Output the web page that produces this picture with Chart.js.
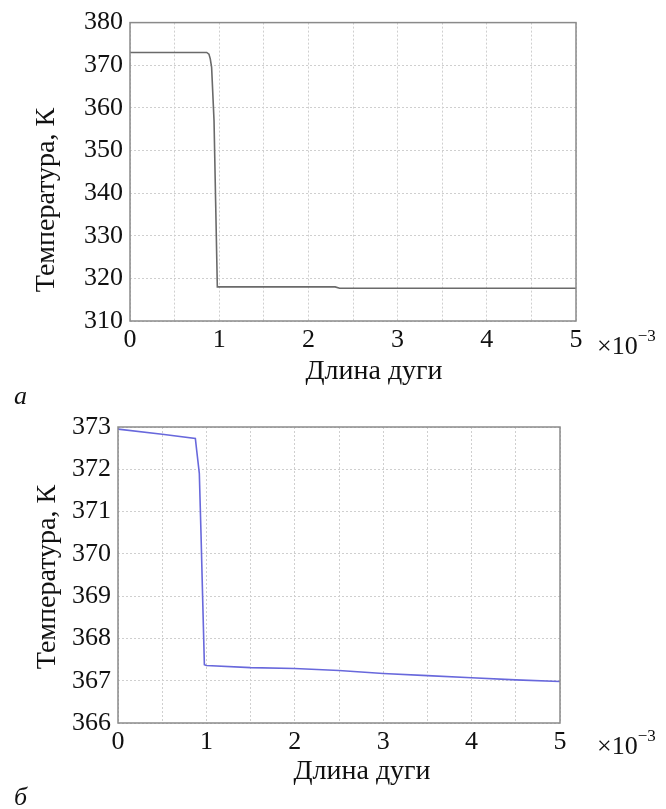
<!DOCTYPE html>
<html>
<head>
<meta charset="utf-8">
<script src="https://cdn.jsdelivr.net/npm/chart.js@4.4.0/dist/chart.umd.min.js"></script>
<style>
body { margin: 0; background: #fff; width: 666px; height: 809px; position: relative; overflow: hidden;
       font-family: "Liberation Serif", "Times New Roman", serif; color: #111; }
canvas { position: absolute; left: 0; }
.lbl { position: absolute; font-size: 28px; line-height: 1; white-space: nowrap; }
.ytitle { transform: translate(-50%, -50%) rotate(-90deg); }
.xtitle { transform: translate(-50%, -50%); }
.exp { font-size: 26px; }
.exp sup { font-size: 17px; position: relative; top: -3px; }
.panel { font-style: italic; font-size: 26px; }
</style>
</head>
<body>
<canvas id="chartA" width="666" height="390" style="top:0"></canvas>
<canvas id="chartB" width="666" height="400" style="top:400px"></canvas>

<div class="lbl ytitle" style="left:45px; top:200px">Температура, К</div>
<div class="lbl xtitle" style="left:374px; top:370px">Длина дуги</div>
<div class="lbl exp" style="left:597px; top:330px">×10<sup>−3</sup></div>
<div class="lbl panel" style="left:14px; top:383px">а</div>

<div class="lbl ytitle" style="left:46px; top:577px">Температура, К</div>
<div class="lbl xtitle" style="left:362px; top:770px">Длина дуги</div>
<div class="lbl exp" style="left:597px; top:730px">×10<sup>−3</sup></div>
<div class="lbl panel" style="left:14px; top:784px">б</div>

<script>
// arc length in units of 1e-3
const arcA  = [0, 0.86, 0.885, 0.9, 0.915, 0.942, 0.96, 0.979, 1.0, 2.3, 2.35, 5.0];
const tempA = [373, 373, 372.6, 371.5, 369.5, 357, 338, 318, 318, 318, 317.7, 317.7];

const arcB  = [0, 0.5, 0.875, 0.89, 0.92, 0.94, 0.957, 0.977, 1.0, 1.5, 2.0, 2.5, 3.0, 3.5, 4.0, 4.5, 5.0];
const tempB = [372.95, 372.83, 372.73, 372.45, 371.9, 370.4, 369.0, 367.38, 367.36, 367.31, 367.29, 367.24, 367.17, 367.12, 367.07, 367.02, 366.98];

const xTicks = [0, 1, 2, 3, 4, 5];

// frame round the plot area, like matlab's box on
const framePlugin = {
    id: 'frame',
    afterDraw(chart) {
        const { ctx, chartArea: a } = chart;
        ctx.save();
        ctx.strokeStyle = '#8a8a8a';
        ctx.lineWidth = 1.5;
        ctx.strokeRect(a.left, a.top, a.right - a.left, a.bottom - a.top);
        ctx.restore();
    }
};

function makeChart(id, xs, ys, yMin, yMax, yStep, color, box) {
    const canvas = document.getElementById(id);
    const font = { family: '"Liberation Serif", "Times New Roman", serif', size: 26 };
    return new Chart(canvas.getContext('2d'), {
        type: 'line',
        data: {
            datasets: [{
                data: xs.map((x, i) => ({ x: x, y: ys[i] })),
                borderColor: color,
                borderWidth: 1.6,
                pointRadius: 0,
                tension: 0,
                fill: false
            }]
        },
        options: {
            responsive: false,
            animation: false,
            events: [],
            layout: { padding: { top: box.top, right: canvas.width - box.right, left: 0, bottom: 0 } },
            plugins: { legend: { display: false }, tooltip: { enabled: false } },
            scales: {
                x: {
                    type: 'linear', min: 0, max: 5,
                    afterFit: s => { s.height = canvas.height - box.bottom; },
                    ticks: {
                        stepSize: 0.5, autoSkip: false, maxRotation: 0, padding: 4,
                        color: '#111', font: font,
                        callback: v => xTicks.includes(v) ? v : ''
                    },
                    grid: { color: '#cfcfcf', lineWidth: 1, drawTicks: false },
                    border: { display: false, dash: [2, 2] }
                },
                y: {
                    min: yMin, max: yMax,
                    afterFit: s => { s.width = box.left; },
                    ticks: { stepSize: yStep, padding: 7, color: '#111', font: font },
                    grid: { color: '#cfcfcf', lineWidth: 1, drawTicks: false },
                    border: { display: false, dash: [2, 2] }
                }
            }
        },
        plugins: [framePlugin]
    });
}

makeChart('chartA', arcA, tempA, 310, 380, 10, '#6a6a6a', { left: 130, right: 576, top: 20, bottom: 321 });
makeChart('chartB', arcB, tempB, 366, 373, 1, '#6868dc', { left: 118, right: 560, top: 27, bottom: 323 });
</script>
</body>
</html>
